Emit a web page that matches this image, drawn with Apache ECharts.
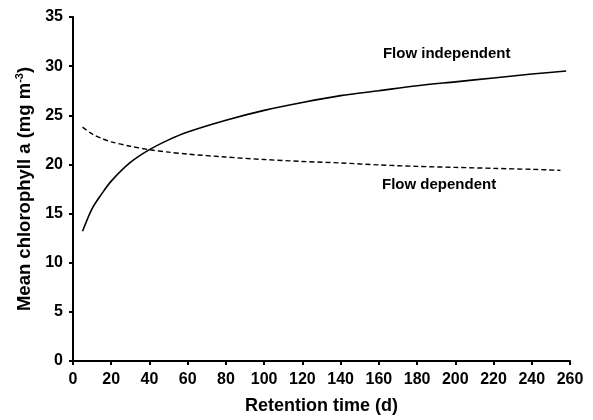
<!DOCTYPE html>
<html>
<head>
<meta charset="utf-8">
<script src="https://cdn.jsdelivr.net/npm/echarts@6/dist/echarts.min.js"></script>
<style>html,body{margin:0;padding:0;background:#fff}#c{width:593px;height:420px}</style>
</head>
<body>
<div id="c"></div>
<script>
var retention = [5, 10, 15, 20, 30, 40, 50, 60, 80, 100, 120, 140, 160, 180, 200, 220, 240, 258];
var flowIndependent = [13.2, 15.5, 17.0, 18.3, 20.2, 21.5, 22.5, 23.3, 24.5, 25.5, 26.3, 27.0, 27.5, 28.0, 28.4, 28.8, 29.2, 29.5];
var dependentX = [5, 10, 15, 20, 30, 40, 50, 60, 80, 100, 120, 140, 160, 180, 200, 220, 240, 255];
var flowDependent = [23.8, 23.1, 22.65, 22.3, 21.85, 21.5, 21.25, 21.05, 20.75, 20.5, 20.3, 20.15, 19.95, 19.8, 19.7, 19.6, 19.5, 19.4];
var xTicks = [0, 20, 40, 60, 80, 100, 120, 140, 160, 180, 200, 220, 240, 260];
var yTicks = [0, 5, 10, 15, 20, 25, 30, 35];
var labelIndependent = {text: 'Flow independent', at: [195.5, 31.2]};
var labelDependent = {text: 'Flow dependent', at: [191.5, 17.9]};

function pairs(xs, ys) { return xs.map(function (x, i) { return [x, ys[i]]; }); }

var FONT = '"Liberation Sans", Arial, sans-serif';
var chart = echarts.init(document.getElementById('c'), null, {renderer: 'canvas'});
var axisCommon = {
  axisLine: {show: true, lineStyle: {color: '#000', width: 2}},
  axisTick: {show: true, inside: false, length: 4, lineStyle: {color: '#000', width: 2}},
  splitLine: {show: false},
  axisLabel: {color: '#000', fontFamily: FONT, fontWeight: 'bold', fontSize: 16}
};
function lbl(o) {
  return {
    name: o.text,
    coord: o.at,
    symbol: 'circle',
    symbolSize: 0,
    label: {show: true, position: 'inside', formatter: o.text, color: '#000', fontFamily: FONT, fontWeight: 'bold', fontSize: 15}
  };
}
chart.setOption({
  animation: false,
  backgroundColor: '#fff',
  grid: {left: 73, right: 23, top: 17, bottom: 55, containLabel: false},
  xAxis: Object.assign({}, axisCommon, {
    type: 'value', min: xTicks[0], max: xTicks[xTicks.length - 1], interval: 20,
    name: 'Retention time (d)', nameLocation: 'middle', nameGap: 36,
    nameTextStyle: {color: '#000', fontFamily: FONT, fontWeight: 'bold', fontSize: 18},
    axisLabel: Object.assign({}, axisCommon.axisLabel, {margin: 11})
  }),
  yAxis: Object.assign({}, axisCommon, {
    type: 'value', min: yTicks[0], max: yTicks[yTicks.length - 1], interval: 5,
    name: '{t|Mean chlorophyll a (mg m}{s|-3}{t|)}', nameLocation: 'middle', nameGap: 38,
    nameTextStyle: {
      color: '#000', fontFamily: FONT, fontWeight: 'bold', fontSize: 18.5,
      rich: {
        t: {color: '#000', fontFamily: FONT, fontWeight: 'bold', fontSize: 18.5, lineHeight: 20},
        s: {color: '#000', fontFamily: FONT, fontWeight: 'bold', fontSize: 11, lineHeight: 20, verticalAlign: 'top'}
      }
    },
    axisLabel: Object.assign({}, axisCommon.axisLabel, {margin: 10})
  }),
  series: [
    {
      name: 'Flow independent', type: 'line', data: pairs(retention, flowIndependent),
      smooth: 0.3, showSymbol: false, symbol: 'none',
      lineStyle: {color: '#000', width: 1.6, type: 'solid'},
      markPoint: {data: [lbl(labelIndependent), lbl(labelDependent)], silent: true}
    },
    {
      name: 'Flow dependent', type: 'line', data: pairs(dependentX, flowDependent),
      smooth: 0.3, showSymbol: false, symbol: 'none',
      lineStyle: {color: '#000', width: 1.4, type: [5, 3]}
    }
  ]
});
</script>
</body>
</html>
